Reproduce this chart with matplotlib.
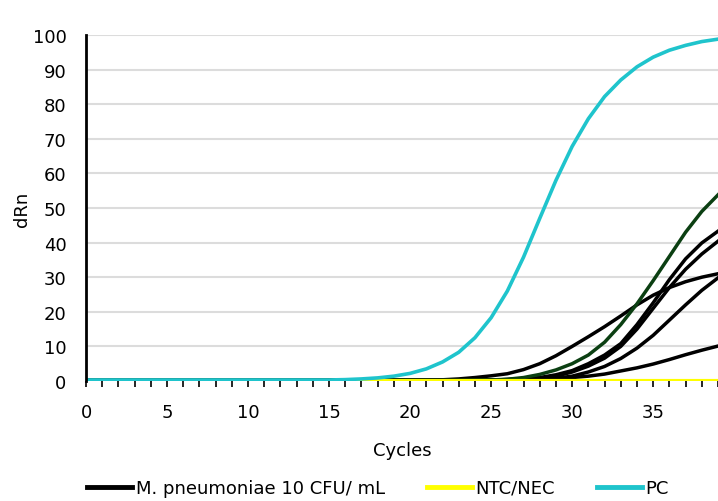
import matplotlib
matplotlib.use("Agg")
import matplotlib.pyplot as plt

plt.rcParams['font.family'] = ['DejaVu Sans']

cycles = list(range(0, 40))

# PC (cyan) values per cycle 0..39
pc = [0.3]*15 + [0.3, 0.4, 0.6, 0.9, 1.4, 2.2, 3.5, 5.5, 8.3, 12.5, 18.3, 26.0, 35.8, 47.0,
                 58.0, 67.8, 75.8, 82.2, 87.0, 90.8, 93.6, 95.6, 97.0, 98.1, 98.8]

# NTC/NEC (yellow)
ntc = [0.0]*40

# M. pneumoniae 10 CFU/mL replicates (black)
rep_a = [0.2]*20 + [0.2, 0.25, 0.35, 0.6, 1.0, 1.5, 2.1, 3.3, 5.0, 7.3, 10.0, 12.8, 15.7, 18.8,
                    22.0, 24.8, 27.0, 28.7, 30.0, 31.0]
rep_b = [0.2]*20 + [0.2, 0.2, 0.2, 0.2, 0.25, 0.3, 0.4, 0.6, 1.0, 1.8, 3.0, 5.0, 7.5, 10.8,
                    16.3, 22.6, 29.3, 35.3, 39.9, 43.3]
rep_c = [0.2]*20 + [0.2, 0.2, 0.2, 0.2, 0.25, 0.3, 0.4, 0.55, 0.8, 1.4, 2.6, 4.3, 6.6, 10.0,
                    15.0, 21.0, 27.0, 32.3, 36.7, 40.4]
rep_d = [0.2]*20 + [0.2, 0.2, 0.2, 0.2, 0.2, 0.25, 0.3, 0.4, 0.55, 0.8, 1.4, 2.6, 4.2, 6.5,
                    9.5, 13.2, 17.6, 22.0, 26.2, 29.8]
rep_e = [0.2]*20 + [0.2, 0.2, 0.2, 0.2, 0.25, 0.3, 0.4, 0.5, 0.6, 0.8, 1.0, 1.4, 2.0, 2.9,
                    3.8, 4.9, 6.2, 7.6, 8.9, 10.1]
# highlighted replicate (dark green)
rep_green = [0.2]*20 + [0.2, 0.2, 0.2, 0.2, 0.25, 0.3, 0.5, 1.0, 1.9, 3.2, 5.0, 7.5, 11.2, 16.3,
                        22.3, 29.0, 36.0, 43.0, 49.0, 53.8]

black_reps = [rep_a, rep_b, rep_c, rep_d, rep_e]

x_major = [0, 5, 10, 15, 20, 25, 30, 35]
y_ticks = [0, 10, 20, 30, 40, 50, 60, 70, 80, 90, 100]

fs = 13
fig = plt.figure(figsize=(7.18, 5.02), dpi=100)
ax = fig.add_axes([86/718, 1-382/502, 1-86/718, (382-36)/502])

lw = 2.5
for i, r in enumerate(black_reps):
    ax.plot(cycles, r, color='black', lw=lw,
            label='M. pneumoniae 10 CFU/ mL' if i == 0 else None, zorder=3)
ax.plot(cycles, rep_green, color='#0b3f12', lw=lw, zorder=3)
ax.plot(cycles, ntc, color='#ffff00', lw=3.0, label='NTC/NEC', zorder=4)
ax.plot(cycles, pc, color='#1fc4cc', lw=2.6, label='PC', zorder=5)

ax.set_xlim(0, 39)
ax.set_ylim(0, 100)
ax.set_yticks(y_ticks)
ax.set_xticks(x_major)
ax.set_xticks(range(0, 40), minor=True)
ax.tick_params(axis='y', length=0, pad=14, labelsize=fs)
ax.tick_params(axis='x', which='both', length=4, width=1.2, direction='out', color='black')
ax.tick_params(axis='x', which='major', pad=12, labelsize=fs)
ax.grid(axis='y', color='#dcdcdc', lw=1.5, zorder=0)
ax.set_axisbelow(True)
for s in ['top', 'right', 'bottom']:
    ax.spines[s].set_visible(False)
ax.spines['left'].set_linewidth(2)
ax.spines['left'].set_color('black')
ax.spines['left'].set_zorder(6)

ax.set_xlabel('Cycles', fontsize=fs, labelpad=14)
ax.set_ylabel('dRn', fontsize=fs, labelpad=1)

leg = fig.legend(loc='center', bbox_to_anchor=(378/718, 1-489/502), ncol=3, frameon=False,
                 fontsize=fs, handlelength=2.5, handletextpad=0.2, columnspacing=2.3)
for h in leg.legend_handles:
    h.set_linewidth(3.5)

fig.savefig('out.png', dpi=100)
